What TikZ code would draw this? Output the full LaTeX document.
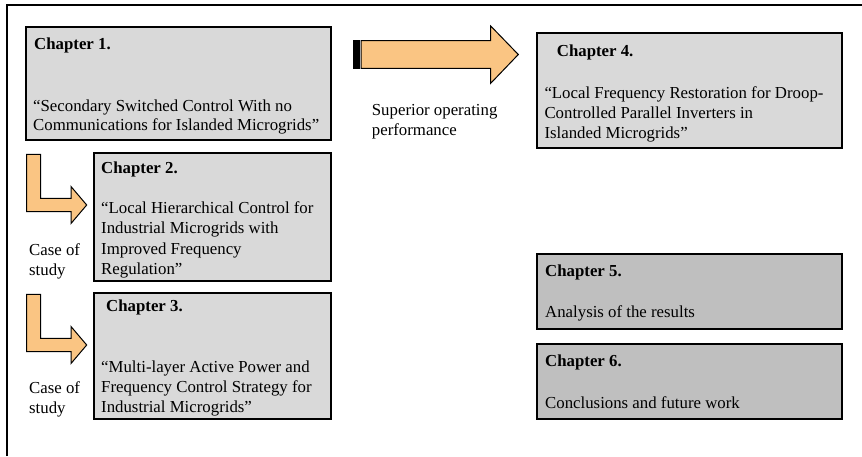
\documentclass[tikz,border=0pt]{standalone}
\usepackage{fontspec}
\setmainfont{Liberation Serif}
\definecolor{boxlight}{HTML}{D9D9D9}
\definecolor{boxdark}{HTML}{BFBFBF}
\definecolor{arroworange}{HTML}{FAC583}
\tikzset{
  lightbox/.style={draw, line width=1.6pt, fill=boxlight, inner sep=0pt},
  darkbox/.style={draw, line width=1.6pt, fill=boxdark, inner sep=0pt},
  txt/.style={anchor=base west, inner sep=0pt, font=\fontsize{16.8}{20}\selectfont},
  head/.style={txt, font=\fontsize{16.8}{20}\selectfont\bfseries},
  blockarrow/.style={draw, line width=1pt, fill=arroworange, line join=miter}
}
\begin{document}
\begin{tikzpicture}[x=1pt, y=-1pt]
    \useasboundingbox (0,0) rectangle (862,456);
    % outer frame
    \draw[line width=1.3pt] (7,456) -- (7,5) -- (862,5);

    % chapter boxes
    \node[lightbox, minimum width=305pt, minimum height=113pt] at (178.5,83.5) (ch1) {};
    \node[lightbox, minimum width=237pt, minimum height=128pt] at (212.5,217) (ch2) {};
    \node[lightbox, minimum width=237pt, minimum height=126pt] at (212.5,356) (ch3) {};
    \node[lightbox, minimum width=305pt, minimum height=115pt] at (689.5,90.5) (ch4) {};
    \node[darkbox, minimum width=305pt, minimum height=75pt] at (689.5,291.5) (ch5) {};
    \node[darkbox, minimum width=305pt, minimum height=75pt] at (689.5,381.5) (ch6) {};

    % chapter 1
    \node[head] at (34,49.3) (h1) {Chapter 1.};
    \node[txt] at (33,111.7) (t1a) {“Secondary Switched Control With no};
    \node[txt] at (33,130.7) (t1b) {Communications for Islanded Microgrids”};
    % chapter 2
    \node[head] at (101,173.3) (h2) {Chapter 2.};
    \node[txt] at (101,213.3) (t2a) {“Local Hierarchical Control for};
    \node[txt] at (101,233.7) (t2b) {Industrial Microgrids with};
    \node[txt] at (101,254) (t2c) {Improved Frequency};
    \node[txt] at (101,274.3) (t2d) {Regulation”};
    % chapter 3
    \node[head] at (106,311.7) (h3) {Chapter 3.};
    \node[txt] at (101,372.7) (t3a) {“Multi-layer Active Power and};
    \node[txt] at (101,392.3) (t3b) {Frequency Control Strategy for};
    \node[txt] at (101,412.7) (t3c) {Industrial Microgrids”};
    % chapter 4
    \node[head] at (556.7,56.7) (h4) {Chapter 4.};
    \node[txt] at (544.3,98.3) (t4a) {“Local Frequency Restoration for Droop-};
    \node[txt] at (544.3,118.3) (t4b) {Controlled Parallel Inverters in};
    \node[txt] at (544.3,138.3) (t4c) {Islanded Microgrids”};
    % chapters 5 and 6
    \node[head] at (545,276.7) (h5) {Chapter 5.};
    \node[txt] at (545,317.3) (t5) {Analysis of the results};
    \node[head] at (545,366.7) (h6) {Chapter 6.};
    \node[txt] at (545,408.3) (t6) {Conclusions and future work};

    % striped arrow towards chapter 4
    \draw[blockarrow, fill=black] (353.5,40.7) rectangle (357,68.3);
    \draw[blockarrow] (358.5,40.7) rectangle (359.6,68.3);
    \draw[blockarrow] (361,40.7) -- (490.7,40.7) -- (490.7,26) -- (518.3,54.5)
        -- (490.7,83.3) -- (490.7,68.3) -- (361,68.3) -- cycle;
    \node[txt] at (371.7,115) (sup1) {Superior operating};
    \node[txt] at (371.7,135) (sup2) {performance};

    % bent arrows, case of study
    \draw[blockarrow] (26.7,154.3) -- (40.7,154.3) -- (40.7,198.3) -- (71,198.3) -- (71,186.5)
        -- (86.7,205) -- (71,223.5) -- (71,211.7) -- (26.7,211.7) -- cycle;
    \node[txt] at (29,255.7) (cs1a) {Case of};
    \node[txt] at (29,275.7) (cs1b) {study};
    \draw[blockarrow] (26.7,294.3) -- (40.7,294.3) -- (40.7,338.3) -- (71,338.3) -- (71,326.5)
        -- (86.7,345) -- (71,363.5) -- (71,351.7) -- (26.7,351.7) -- cycle;
    \node[txt] at (29,393.3) (cs2a) {Case of};
    \node[txt] at (29,413.3) (cs2b) {study};
\end{tikzpicture}
\end{document}
